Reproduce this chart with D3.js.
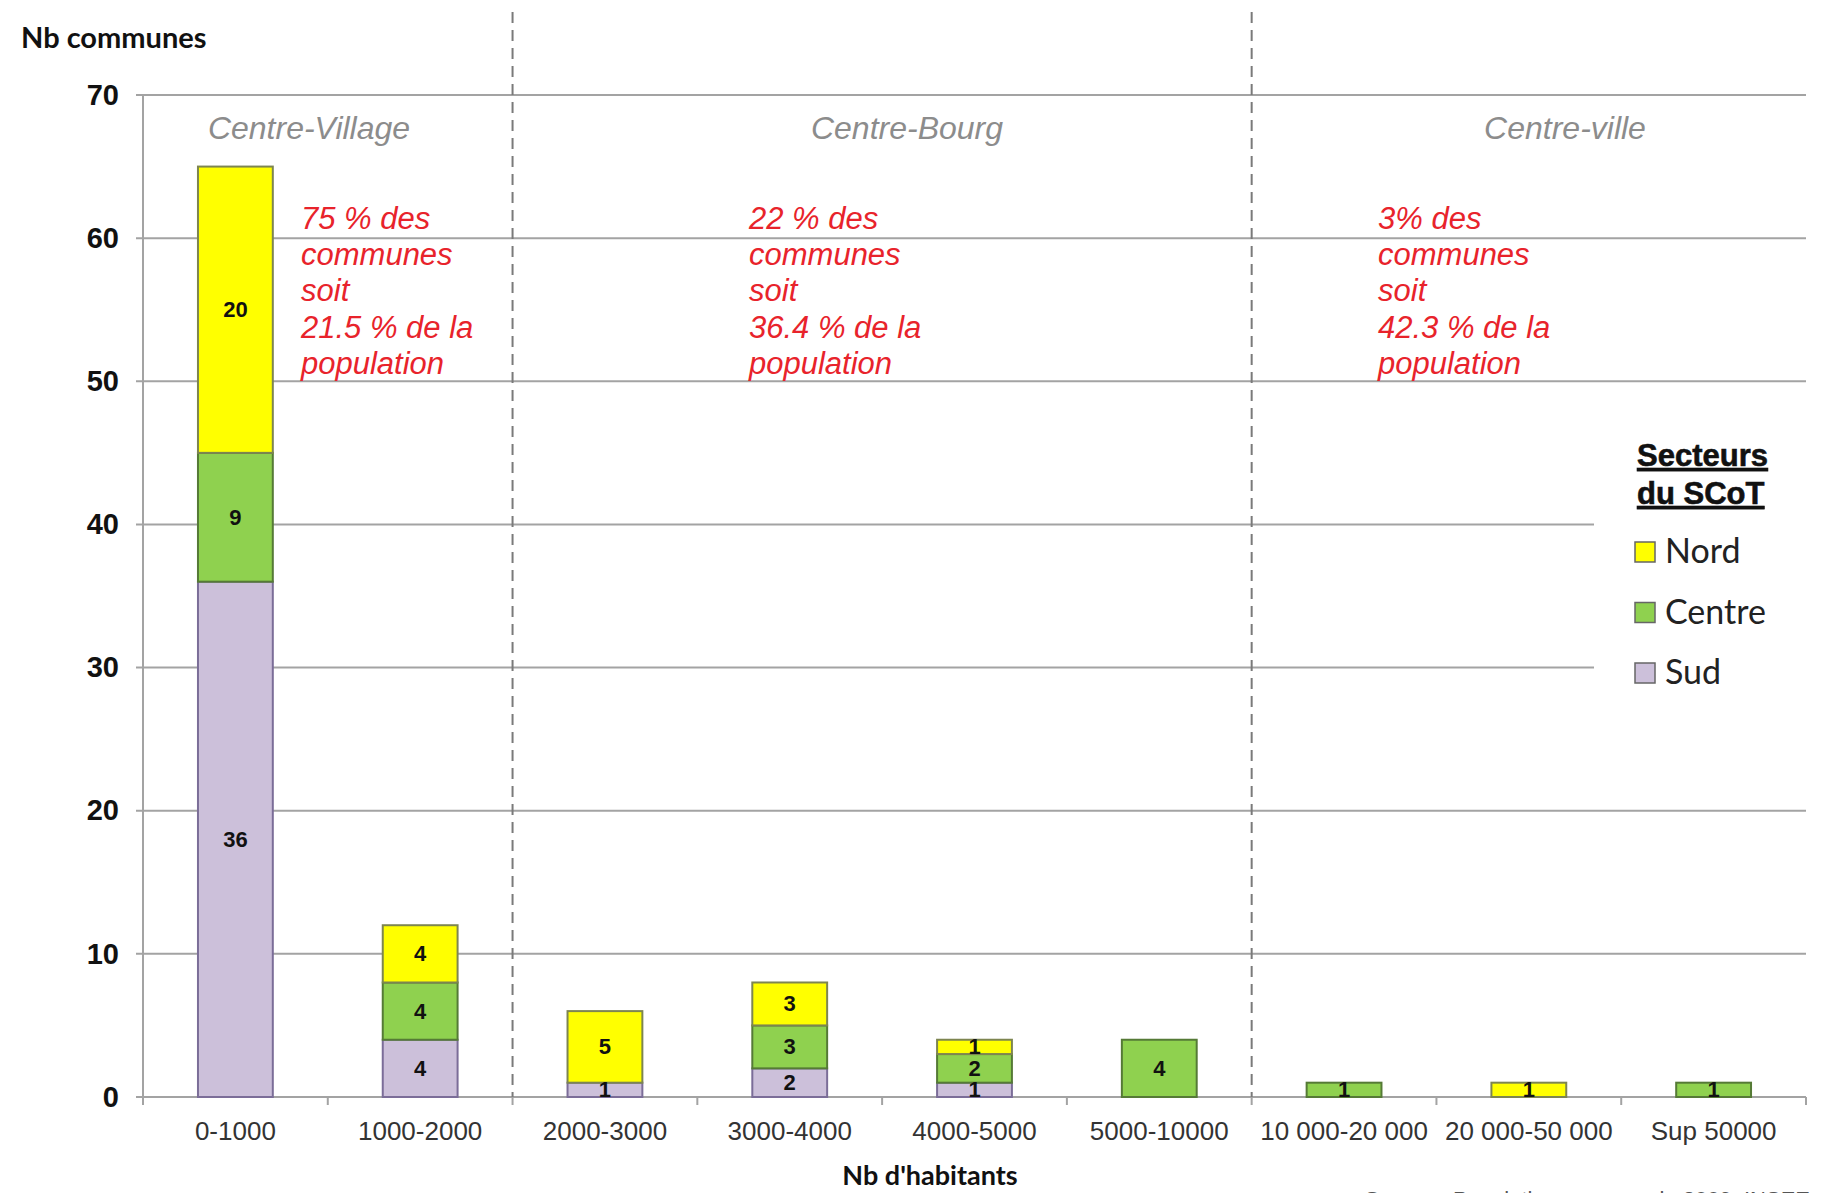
<!DOCTYPE html>
<html>
<head>
<meta charset="utf-8">
<script src="https://cdn.jsdelivr.net/npm/d3@7"></script>
<style>
  body { margin: 0; background: #fff; }
  svg { display: block; }
</style>
</head>
<body>
<div id="chart"></div>
<script>
// Nombre de communes par taille, par secteur du SCoT
const categories = ["0-1000", "1000-2000", "2000-3000", "3000-4000", "4000-5000",
  "5000-10000", "10 000-20 000", "20 000-50 000", "Sup 50000"];
const sud    = [36, 4, 1, 2, 1, 0, 0, 0, 0];
const centre = [9, 4, 0, 3, 2, 4, 1, 0, 1];
const nord   = [20, 4, 5, 3, 1, 0, 0, 1, 0];
const yTicks = [0, 10, 20, 30, 40, 50, 60, 70];

// zones : premiere categorie de chaque zone + commentaires
const zoneNames = ["Centre-Village", "Centre-Bourg", "Centre-ville"];
const zoneStart = [0, 2, 6];
const zoneNotes = [
  ["75 % des", "communes", "soit", "21.5 % de la", "population"],
  ["22 % des", "communes", "soit", "36.4 % de la", "population"],
  ["3% des", "communes", "soit", "42.3 % de la", "population"]
];
const seriesKeys = ["sud", "centre", "nord"];
const legendNames = ["Nord", "Centre", "Sud"];

const fills = {nord: "#ffff00", centre: "#8fd14f", sud: "#ccc0da"};
const strokes = {nord: "#7d8550", centre: "#557a36", sud: "#7b6d98"};
const legendKeys = ["nord", "centre", "sud"];

let margin = {top: 95, right: 25, bottom: 96, left: 143},
  width = 1831 - margin.left - margin.right,
  height = 1193 - margin.top - margin.bottom;

let root = d3.select("#chart")
  .append("svg")
  .attr("width", 1831)
  .attr("height", 1193)
  .style("font-family", "'Liberation Sans', Arial, sans-serif");

let svg = root.append("g")
  .attr("transform", "translate(" + margin.left + "," + margin.top + ")");

let x = d3.scaleBand()
  .domain(categories)
  .range([0, width])
  .padding(0);

let y = d3.scaleLinear()
  .domain([0, 70])
  .range([height, 0]);

// grille
svg.append("g")
  .selectAll("line")
  .data(yTicks)
  .join("line")
  .attr("x1", -7)
  .attr("x2", width)
  .attr("y1", (d) => y(d))
  .attr("y2", (d) => y(d))
  .attr("stroke", "#a3a3a3")
  .attr("stroke-width", 2);

// axe vertical
svg.append("line")
  .attr("x1", 0).attr("x2", 0)
  .attr("y1", 0).attr("y2", height)
  .attr("stroke", "#a3a3a3")
  .attr("stroke-width", 2);

let yAxis = svg.append("g")
  .call(d3.axisLeft(y).tickValues(yTicks).tickSize(0).tickPadding(24));
yAxis.select(".domain").remove();
yAxis.selectAll("text")
  .style("font-family", "'Liberation Sans', Arial, sans-serif")
  .style("font-size", "29px")
  .style("font-weight", "bold")
  .attr("fill", "#111");

// axe horizontal
let bounds = categories.map((c) => x(c)).concat([width]);
svg.append("g")
  .selectAll("line")
  .data(bounds)
  .join("line")
  .attr("x1", (d) => d)
  .attr("x2", (d) => d)
  .attr("y1", height)
  .attr("y2", height + 8)
  .attr("stroke", "#a3a3a3")
  .attr("stroke-width", 2);

let xAxis = svg.append("g")
  .attr("transform", "translate(0," + height + ")")
  .call(d3.axisBottom(x).tickSize(0).tickPadding(25));
xAxis.select(".domain").remove();
xAxis.selectAll("text")
  .style("font-family", "'Liberation Sans', Arial, sans-serif")
  .style("font-size", "26px")
  .attr("fill", "#333");

// separations des zones
svg.append("g")
  .selectAll("line")
  .data(zoneStart.slice(1))
  .join("line")
  .attr("x1", (d) => x(categories[d]))
  .attr("x2", (d) => x(categories[d]))
  .attr("y1", 12 - margin.top)
  .attr("y2", height)
  .attr("stroke", "#7a7a7a")
  .attr("stroke-width", 2)
  .attr("stroke-dasharray", "11,7");

// barres empilees
let rows = categories.map((c, i) => ({cat: c, sud: sud[i], centre: centre[i], nord: nord[i]}));
let stacked = d3.stack().keys(seriesKeys)(rows);
let barW = x.bandwidth() * 0.405;

let layers = svg.append("g")
  .selectAll("g")
  .data(stacked)
  .join("g")
  .attr("fill", (d) => fills[d.key])
  .attr("stroke", (d) => strokes[d.key]);

layers.selectAll("rect")
  .data((d) => d.filter((s) => s[1] > s[0]))
  .join("rect")
  .attr("x", (d) => x(d.data.cat) + (x.bandwidth() - barW) / 2)
  .attr("y", (d) => y(d[1]))
  .attr("width", barW)
  .attr("height", (d) => y(d[0]) - y(d[1]))
  .attr("stroke-width", 2);

let labels = svg.append("g");
stacked.forEach((layer) => {
  labels.selectAll(null)
    .data(layer.filter((s) => s[1] > s[0]))
    .join("text")
    .attr("x", (d) => x(d.data.cat) + x.bandwidth() / 2)
    .attr("y", (d) => (y(d[0]) + y(d[1])) / 2)
    .attr("text-anchor", "middle")
    .attr("dominant-baseline", "central")
    .style("font-size", "22px")
    .style("font-weight", "bold")
    .attr("fill", "#111")
    .text((d) => d[1] - d[0]);
});

// noms des zones et commentaires
let zoneX = [309, 907, 1565];
zoneNames.forEach((name, i) => {
  svg.append("text")
    .attr("x", zoneX[i] - margin.left)
    .attr("y", 139 - margin.top)
    .attr("text-anchor", "middle")
    .style("font-size", "32px")
    .style("font-style", "italic")
    .attr("fill", "#8c8c8c")
    .text(name);
});

let noteX = [301, 749, 1378];
zoneNotes.forEach((lines, i) => {
  let t = svg.append("text")
    .attr("x", noteX[i] - margin.left)
    .attr("y", 229 - margin.top)
    .style("font-size", "31px")
    .style("font-style", "italic")
    .attr("fill", "#e8232b");
  t.selectAll("tspan")
    .data(lines)
    .join("tspan")
    .attr("x", noteX[i] - margin.left)
    .attr("dy", (d, j) => j === 0 ? 0 : 36.2)
    .text((d) => d);
});

// legende
root.append("rect")
  .attr("x", 1594).attr("y", 432)
  .attr("width", 237).attr("height", 268)
  .attr("fill", "#fff");

["Secteurs", "du SCoT"].forEach((line, i) => {
  root.append("text")
    .attr("x", 1637).attr("y", 466 + i * 38)
    .style("font-size", "31px")
    .style("font-weight", "bold")
    .style("text-decoration", "underline")
    .style("stroke", "#111")
    .style("stroke-width", 0.6)
    .attr("fill", "#111")
    .text(line);
});

let legend = root.append("g")
  .selectAll("g")
  .data(legendKeys)
  .join("g")
  .attr("transform", (d, i) => "translate(1635," + (542 + i * 60.5) + ")");
legend.append("rect")
  .attr("width", 20).attr("height", 20)
  .attr("fill", (d) => fills[d])
  .attr("stroke", "#666")
  .attr("stroke-width", 1.5);
legend.append("text")
  .attr("x", 30).attr("y", 21)
  .style("font-family", "Lato, 'Open Sans', sans-serif")
  .style("font-size", "34px")
  .attr("fill", "#222")
  .text((d, i) => legendNames[i]);

// titres des axes
root.append("text")
  .attr("x", 21).attr("y", 48)
  .style("font-family", "Lato, 'Open Sans', sans-serif")
  .style("font-size", "29px")
  .style("font-weight", "bold")
  .attr("fill", "#111")
  .text("Nb communes");

root.append("text")
  .attr("x", 930).attr("y", 1185)
  .attr("text-anchor", "middle")
  .style("font-family", "Lato, 'Open Sans', sans-serif")
  .style("font-size", "27px")
  .style("font-weight", "bold")
  .attr("fill", "#111")
  .text("Nb d'habitants");

root.append("text")
  .attr("x", 1810).attr("y", 1207)
  .attr("text-anchor", "end")
  .style("font-size", "22px")
  .attr("fill", "#555")
  .text("Source : Population communale 2009, INSEE");
</script>
</body>
</html>
